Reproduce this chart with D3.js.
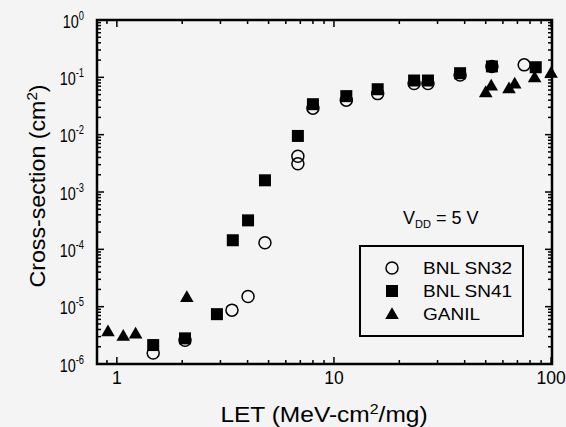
<html>
<script src="https://d3js.org/d3.v7.min.js"></script>
<style>
  body { margin: 0; background: #f4f4f4; }
  text { font-family: Arial, "Liberation Sans", sans-serif; fill: #000; }
</style>
<body>
<svg width="566" height="427"></svg>
<script>
// data
var sn32LET = [1.47, 2.06, 3.39, 4.02, 4.81, 6.82, 6.82, 8.0, 11.4, 15.9, 23.4, 27.1, 38.1, 53.4, 75.2];
var sn32CS  = [1.55e-6, 2.6e-6, 8.7e-6, 1.5e-5, 1.3e-4, 4.2e-3, 3.1e-3, 0.029, 0.040, 0.052, 0.078, 0.078, 0.11, 0.155, 0.165];

var sn41LET = [1.47, 2.06, 2.89, 3.42, 4.02, 4.81, 6.82, 8.0, 11.4, 15.9, 23.4, 27.1, 38.1, 53.4, 85];
var sn41CS  = [2.14e-6, 2.8e-6, 7.4e-6, 1.44e-4, 3.2e-4, 1.6e-3, 9.5e-3, 0.034, 0.047, 0.062, 0.088, 0.088, 0.118, 0.155, 0.15];

var ganilLET = [0.91, 1.07, 1.22, 2.10, 50, 53, 64, 68, 84, 100];
var ganilCS  = [3.7e-6, 3.1e-6, 3.4e-6, 1.47e-5, 0.055, 0.072, 0.064, 0.078, 0.10, 0.12];

var xTickVals = [1, 10, 100];
var yExps = [0, -1, -2, -3, -4, -5, -6];
var legendNames = ["BNL SN32", "BNL SN41", "GANIL"];

function draw() {
  var svg = d3.select("svg");
  var pLeft = 97, pRight = 552, pTop = 20, pBottom = 364;

  var x = d3.scaleLog().domain([0.81, 101]).range([pLeft, pRight]);
  var y = d3.scaleLog().domain([1e-6, 1]).range([pBottom, pTop]);

  // text placed with a horizontal stretch (scanned figure has odd proportions)
  function label(px, py, size, sx, rot) {
    return svg.append("text")
      .attr("transform", "translate(" + px + "," + py + ")" + (rot ? " rotate(" + rot + ")" : "") + " scale(" + sx + ",1)")
      .attr("font-size", size);
  }

  // ticks on all four sides, pointing in
  var xAll = x.ticks().filter(function(v) { return v >= 0.81 && v <= 101; });
  var yAll = y.ticks();
  function isMajor(v) { var l = Math.log10(v); return Math.abs(l - Math.round(l)) < 1e-9; }

  var g = svg.append("g").attr("stroke", "#000").attr("stroke-width", 1.5);
  xAll.forEach(function(v) {
    var len = isMajor(v) ? 7 : 4;
    g.append("line").attr("x1", x(v)).attr("x2", x(v)).attr("y1", pBottom).attr("y2", pBottom - len);
    g.append("line").attr("x1", x(v)).attr("x2", x(v)).attr("y1", pTop).attr("y2", pTop + len);
  });
  yAll.forEach(function(v) {
    var len = isMajor(v) ? 7 : 4;
    g.append("line").attr("y1", y(v)).attr("y2", y(v)).attr("x1", pLeft).attr("x2", pLeft + len);
    g.append("line").attr("y1", y(v)).attr("y2", y(v)).attr("x1", pRight).attr("x2", pRight - len);
  });

  svg.append("rect").attr("x", pLeft).attr("y", pTop).attr("width", pRight - pLeft).attr("height", pBottom - pTop)
    .attr("fill", "none").attr("stroke", "#000").attr("stroke-width", 2.5);

  // tick labels
  svg.selectAll(".xl").data(xTickVals).enter().append("text")
    .attr("x", function(d) { return x(d); }).attr("y", 384)
    .attr("text-anchor", "middle").attr("font-size", 17.5).text(function(d) { return d; });

  yExps.forEach(function(e) {
    var t = label(84, y(Math.pow(10, e)) + 7.5, 18.5, 0.78).attr("text-anchor", "end");
    t.append("tspan").text("10");
    t.append("tspan").attr("font-size", 12).attr("dy", -8).text(e === 0 ? "0" : "-" + (-e));
  });

  // axis titles
  var xt = label(324, 422, 21.5, 1.14).attr("text-anchor", "middle");
  xt.append("tspan").text("LET (MeV-cm");
  xt.append("tspan").attr("font-size", 14).attr("dy", -8).text("2");
  xt.append("tspan").attr("dy", 8).text("/mg)");

  var yt = label(45, 186, 21.5, 1.08, -90).attr("text-anchor", "middle");
  yt.append("tspan").text("Cross-section (cm");
  yt.append("tspan").attr("font-size", 14).attr("dy", -8).text("2");
  yt.append("tspan").attr("dy", 8).text(")");

  // markers
  var tri = d3.symbol().type(d3.symbolTriangle).size(80);
  function circles(xs, ys) {
    svg.append("g").selectAll("circle").data(xs).enter().append("circle")
      .attr("cx", function(d) { return x(d); }).attr("cy", function(d, i) { return y(ys[i]); })
      .attr("r", 6).attr("fill", "none").attr("stroke", "#000").attr("stroke-width", 1.5);
  }
  function squares(xs, ys) {
    svg.append("g").selectAll("rect").data(xs).enter().append("rect")
      .attr("x", function(d) { return x(d) - 6; }).attr("y", function(d, i) { return y(ys[i]) - 6; })
      .attr("width", 12).attr("height", 12).attr("fill", "#000");
  }
  function triangles(xs, ys) {
    svg.append("g").selectAll("path").data(xs).enter().append("path")
      .attr("d", tri).attr("fill", "#000")
      .attr("transform", function(d, i) { return "translate(" + x(d) + "," + (y(ys[i]) + 1) + ")"; });
  }
  squares(sn41LET, sn41CS);
  circles(sn32LET, sn32CS);
  triangles(ganilLET, ganilCS);

  // annotation
  var vdd = label(403, 224, 18, 1);
  vdd.append("tspan").text("V");
  vdd.append("tspan").attr("font-size", 11).attr("dy", 4).text("DD");
  vdd.append("tspan").attr("dy", -4).text(" = 5 V");

  // legend
  svg.append("rect").attr("x", 360).attr("y", 246).attr("width", 163).attr("height", 90)
    .attr("fill", "none").attr("stroke", "#000").attr("stroke-width", 2);
  var ly = [268, 291, 314];
  svg.append("circle").attr("cx", 392).attr("cy", ly[0]).attr("r", 6)
    .attr("fill", "none").attr("stroke", "#000").attr("stroke-width", 1.5);
  svg.append("rect").attr("x", 386).attr("y", ly[1] - 6).attr("width", 12).attr("height", 12).attr("fill", "#000");
  svg.append("path").attr("d", tri).attr("fill", "#000").attr("transform", "translate(392," + (ly[2] + 1) + ")");
  legendNames.forEach(function(n, i) {
    label(423, ly[i] + 6, 17, 1.12).text(n);
  });
}
draw();
</script>
</body>
</html>
